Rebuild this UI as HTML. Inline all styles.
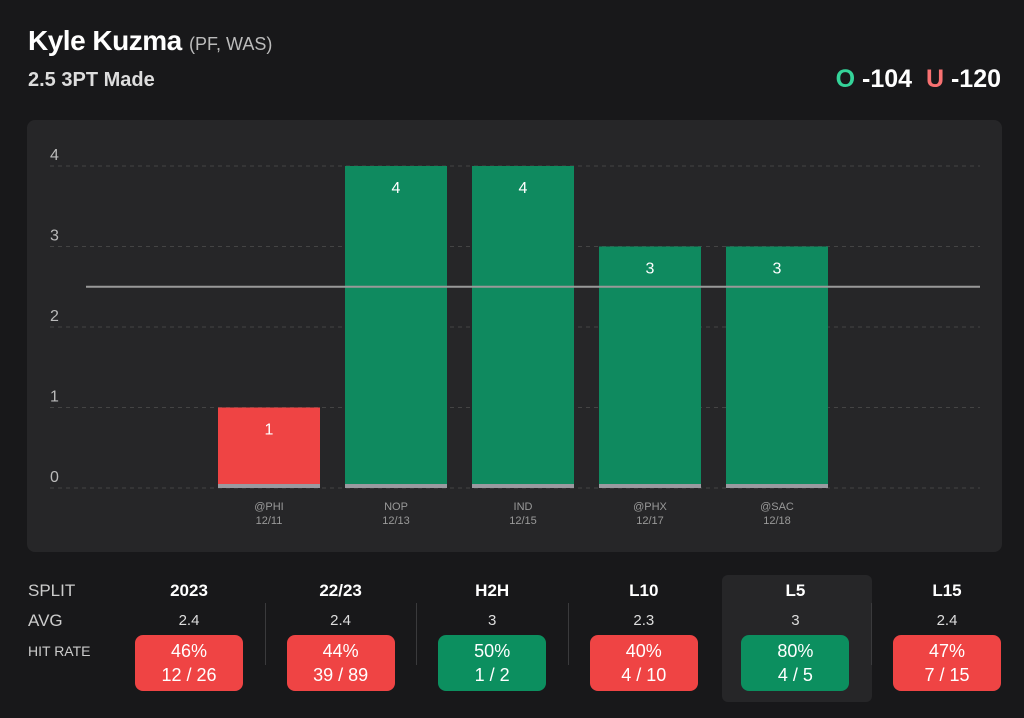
<!DOCTYPE html>
<html><head><meta charset="utf-8"><style>
body{margin:0;width:1024px;height:718px;background:#18181a;font-family:"Liberation Sans",sans-serif;color:#fff;position:relative;overflow:hidden}
.abs{position:absolute}
.box{position:absolute;width:108px;height:56px;border-radius:8px;text-align:center;font-size:18px;line-height:24px;padding-top:4px;box-sizing:border-box}
.r{background:#ef4444}.g{background:#0c8f5f}
</style></head><body>
<div class="abs" style="left:28px;top:25px;font-size:28px;font-weight:bold;letter-spacing:-0.5px">Kyle Kuzma <span style="font-size:18px;font-weight:normal;color:#bbb;letter-spacing:0">(PF, WAS)</span></div>
<div class="abs" style="left:28px;top:69px;font-size:20px;font-weight:bold;color:#ddd">2.5 3PT Made</div>
<div class="abs" style="right:23px;top:65px;font-size:25px;font-weight:bold"><span style="color:#34d399">O</span> -104 &nbsp;<span style="color:#f87171">U</span> -120</div>
<div class="abs" style="left:27px;top:120px;width:975px;height:432px;background:#262628;border-radius:8px"></div>
<svg class="abs" style="left:0;top:0" width="1024" height="560" id="chart"></svg>
<div class="abs" style="left:722px;top:575px;width:150px;height:127px;background:#262628;border-radius:6px"></div>
<div id="table"></div>
<script>
const categories=["@PHI","NOP","IND","@PHX","@SAC"];
const dates=["12/11","12/13","12/15","12/17","12/18"];
const values=[1,4,4,3,3];
const line=2.5;
const ticks=[0,1,2,3,4];
const svg=document.getElementById('chart');
const NS='http://www.w3.org/2000/svg';
const y=v=>488-v*80.5;
const x=i=>218+i*127;
function mk(t,a){const e=document.createElementNS(NS,t);for(const k in a)e.setAttribute(k,a[k]);svg.appendChild(e);return e;}
ticks.forEach(t=>{
 const l=mk('line',{x1:50,x2:980,y1:y(t),y2:y(t),stroke:'#444','stroke-dasharray':'4 4','stroke-width':1});
 
 
 const tx=mk('text',{x:50,y:y(t)-6,fill:'#bbb','font-size':16,'font-family':'Liberation Sans'});
 tx.textContent=t;
 
 
});
values.forEach((v,i)=>{
 const c=v>line?'#0f8a5f':'#ef4444';
 const r=mk('rect',{x:x(i),y:y(v),width:102,height:y(0)-y(v),fill:c});
 
 
 const b=mk('rect',{x:x(i),y:y(0)-4,width:102,height:4,fill:'#9a9aa0'});
 
 
 const t=mk('text',{x:x(i)+51,y:y(v)+27,fill:'#fff','font-size':16,'text-anchor':'middle','font-family':'Liberation Sans'});
 t.textContent=v;
 
 
 const a=mk('text',{x:x(i)+51,y:510,fill:'#999','font-size':11,'text-anchor':'middle','font-family':'Liberation Sans'});
 a.textContent=categories[i];
 
 
 const d=mk('text',{x:x(i)+51,y:524,fill:'#999','font-size':11,'text-anchor':'middle','font-family':'Liberation Sans'});
 d.textContent=dates[i];
 
 
});
const pl=mk('line',{x1:86,x2:980,y1:y(line),y2:y(line),stroke:'#999','stroke-width':2});



const splits=["2023","22/23","H2H","L10","L5","L15"];
const avgs=["2.4","2.4","3","2.3","3","2.4"];
const pcts=[46,44,50,40,80,47];
const hits=["12 / 26","39 / 89","1 / 2","4 / 10","4 / 5","7 / 15"];
let h='<div class="abs" style="left:28px;top:581px;font-size:17px;color:#ccc">SPLIT</div>'+
'<div class="abs" style="left:28px;top:611px;font-size:17px;color:#ccc">AVG</div>'+
'<div class="abs" style="left:28px;top:643px;font-size:14px;color:#ccc">HIT RATE</div>';
splits.forEach((s,i)=>{
 const cx=189+i*151.6;
 h+=`<div class="abs" style="left:${cx-60}px;width:120px;text-align:center;top:581px;font-size:17px;font-weight:bold">${s}</div>`;
 h+=`<div class="abs" style="left:${cx-60}px;width:120px;text-align:center;top:612px;font-size:15px;color:#ddd">${avgs[i]}</div>`;
 h+=`<div class="box ${pcts[i]>=50?'g':'r'}" style="left:${cx-54}px;top:635px">${pcts[i]}%<br>${hits[i]}</div>`;
 if(i>0&&i!=4)h+=`<div class="abs" style="left:${cx-76}px;top:603px;width:1px;height:62px;background:#3a3a3c"></div>`;
});
document.getElementById('table').innerHTML=h;
</script>
</body></html>
